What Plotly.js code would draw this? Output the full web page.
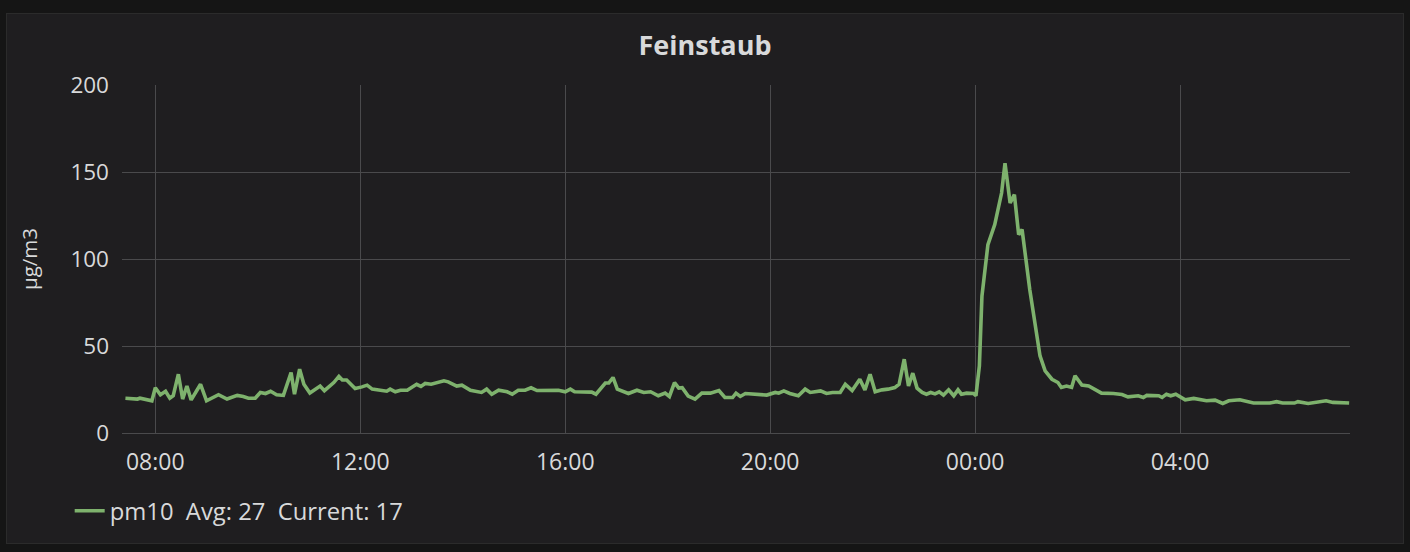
<!DOCTYPE html>
<html>
<head>
<meta charset="utf-8">
<script src="https://cdn.plot.ly/plotly-3.0.1.min.js"></script>
<style>
  html, body { margin: 0; padding: 0; background: #151515; width: 1410px; height: 552px; overflow: hidden; }
  #panel { position: absolute; left: 6px; top: 13px; width: 1396px; height: 529px; border: 1px solid #2b2b2b; background: #1f1e20; }
  #chart { position: absolute; left: 0; top: 0; width: 1396px; height: 529px; }
</style>
</head>
<body>
<div id="panel"><div id="chart"></div></div>
<script>
// ---- data ----
const chartTitle = "Feinstaub";
const yAxisLabel = "µg/m3";
const seriesName = "pm10";
const avgValue = 27;
const currentValue = 17;

const times = [
  "2018-03-10 07:25","2018-03-10 07:39","2018-03-10 07:42","2018-03-10 07:56","2018-03-10 08:00",
  "2018-03-10 08:06","2018-03-10 08:12","2018-03-10 08:17","2018-03-10 08:21","2018-03-10 08:27",
  "2018-03-10 08:32","2018-03-10 08:37","2018-03-10 08:42","2018-03-10 08:53","2018-03-10 09:00",
  "2018-03-10 09:06","2018-03-10 09:14","2018-03-10 09:24","2018-03-10 09:36","2018-03-10 09:43",
  "2018-03-10 09:49","2018-03-10 09:57","2018-03-10 10:03","2018-03-10 10:09","2018-03-10 10:15",
  "2018-03-10 10:22","2018-03-10 10:30","2018-03-10 10:39","2018-03-10 10:43","2018-03-10 10:49",
  "2018-03-10 10:54","2018-03-10 11:01","2018-03-10 11:13","2018-03-10 11:18","2018-03-10 11:29",
  "2018-03-10 11:35","2018-03-10 11:39","2018-03-10 11:44","2018-03-10 11:54","2018-03-10 12:02",
  "2018-03-10 12:08","2018-03-10 12:14","2018-03-10 12:25","2018-03-10 12:31","2018-03-10 12:35",
  "2018-03-10 12:41","2018-03-10 12:47","2018-03-10 12:55","2018-03-10 13:06","2018-03-10 13:11",
  "2018-03-10 13:16","2018-03-10 13:23","2018-03-10 13:38","2018-03-10 13:43","2018-03-10 13:53",
  "2018-03-10 13:59","2018-03-10 14:09","2018-03-10 14:22","2018-03-10 14:28","2018-03-10 14:34",
  "2018-03-10 14:42","2018-03-10 14:52","2018-03-10 14:58","2018-03-10 15:05","2018-03-10 15:13",
  "2018-03-10 15:20","2018-03-10 15:27","2018-03-10 15:37","2018-03-10 15:52","2018-03-10 16:00",
  "2018-03-10 16:06","2018-03-10 16:11","2018-03-10 16:20","2018-03-10 16:31","2018-03-10 16:36",
  "2018-03-10 16:47","2018-03-10 16:51","2018-03-10 16:56","2018-03-10 17:01","2018-03-10 17:08",
  "2018-03-10 17:14","2018-03-10 17:24","2018-03-10 17:32","2018-03-10 17:40","2018-03-10 17:49",
  "2018-03-10 17:57","2018-03-10 18:02","2018-03-10 18:08","2018-03-10 18:13","2018-03-10 18:17",
  "2018-03-10 18:24","2018-03-10 18:32","2018-03-10 18:40","2018-03-10 18:50","2018-03-10 19:00",
  "2018-03-10 19:07","2018-03-10 19:16","2018-03-10 19:20","2018-03-10 19:25","2018-03-10 19:31",
  "2018-03-10 19:44","2018-03-10 19:56","2018-03-10 20:06","2018-03-10 20:10","2018-03-10 20:16",
  "2018-03-10 20:23","2018-03-10 20:33","2018-03-10 20:41","2018-03-10 20:47","2018-03-10 20:59",
  "2018-03-10 21:06","2018-03-10 21:13","2018-03-10 21:22","2018-03-10 21:28","2018-03-10 21:36",
  "2018-03-10 21:45","2018-03-10 21:51","2018-03-10 21:57","2018-03-10 22:03","2018-03-10 22:11",
  "2018-03-10 22:18","2018-03-10 22:26","2018-03-10 22:31","2018-03-10 22:37","2018-03-10 22:42",
  "2018-03-10 22:47","2018-03-10 22:52","2018-03-10 22:58","2018-03-10 23:03","2018-03-10 23:08",
  "2018-03-10 23:13","2018-03-10 23:18","2018-03-10 23:23","2018-03-10 23:29","2018-03-10 23:35",
  "2018-03-10 23:40","2018-03-10 23:44","2018-03-10 23:50","2018-03-10 23:58","2018-03-11 00:01",
  "2018-03-11 00:05","2018-03-11 00:08","2018-03-11 00:15","2018-03-11 00:23","2018-03-11 00:31",
  "2018-03-11 00:35","2018-03-11 00:41","2018-03-11 00:46","2018-03-11 00:51","2018-03-11 00:55",
  "2018-03-11 01:04","2018-03-11 01:16","2018-03-11 01:22","2018-03-11 01:30","2018-03-11 01:37",
  "2018-03-11 01:41","2018-03-11 01:47","2018-03-11 01:53","2018-03-11 01:57","2018-03-11 02:05",
  "2018-03-11 02:13","2018-03-11 02:22","2018-03-11 02:28","2018-03-11 02:42","2018-03-11 02:52",
  "2018-03-11 02:59","2018-03-11 03:11","2018-03-11 03:17","2018-03-11 03:21","2018-03-11 03:35",
  "2018-03-11 03:39","2018-03-11 03:44","2018-03-11 03:49","2018-03-11 03:55","2018-03-11 04:06",
  "2018-03-11 04:16","2018-03-11 04:31","2018-03-11 04:41","2018-03-11 04:50","2018-03-11 04:57",
  "2018-03-11 05:10","2018-03-11 05:26","2018-03-11 05:45","2018-03-11 05:53","2018-03-11 06:00",
  "2018-03-11 06:14","2018-03-11 06:18","2018-03-11 06:30","2018-03-11 06:39","2018-03-11 06:51",
  "2018-03-11 06:59","2018-03-11 07:18"
];

const pm10 = [
  20, 19.5, 20, 18.5, 26,
  22, 24, 20, 21.5, 33.8,
  19.5, 27, 19, 28, 18.5,
  20, 22, 19.5, 21.6, 21,
  20, 20, 23.3, 22.7, 24,
  22, 21.6, 34.8, 22.3, 36.7,
  28, 23, 27, 24.3, 29,
  32.5, 30.5, 30.5, 25.6, 26.5,
  27.5, 25.2, 24.6, 24, 25.2,
  23.7, 24.6, 24.6, 28, 26.8,
  28.5, 28, 30, 29.4, 27,
  27.5, 24.5, 23.3, 25.2, 22.3,
  24.6, 23.7, 22.3, 24.6, 24.6,
  26, 24.4, 24.4, 24.6, 23.7,
  25.2, 23.7, 23.7, 23.5, 22.3,
  28.7, 28.7, 31.9, 25.2, 23.7,
  22.7, 24.6, 23.3, 23.7, 21.4,
  22.9, 21, 29, 25.8, 26,
  21.2, 19.5, 22.9, 22.9, 24.4,
  20.4, 20.4, 22.9, 21, 22.7,
  22.3, 21.8, 23.3, 22.9, 24.2,
  22.7, 21.4, 25.2, 23.3, 24.2,
  22.7, 23.3, 23.3, 28, 24.4,
  30.9, 24.8, 33.8, 23.7, 24.8,
  25.2, 26.1, 28, 42.4, 27,
  34.4, 25.8, 23.3, 22.3, 23.3,
  22.5, 23.7, 21.8, 24.8, 21.4,
  24.8, 22.3, 22.9, 22.7, 21.4,
  38.6, 78.7, 108.3, 119.8, 137.9,
  155.1, 132.2, 137, 114, 116.9,
  82.5, 44.3, 35.7, 30.9, 29,
  26.2, 27, 26.2, 32.9, 27.5,
  27, 24.8, 22.9, 22.7, 22.1,
  20.8, 21.4, 20.4, 21.6, 21.4,
  20.4, 22.3, 21.4, 22.3, 19.1,
  19.9, 18.5, 18.9, 17, 18.5,
  19.1, 17.2, 17.2, 18, 17.2,
  17.2, 18, 17, 17.6, 18.5,
  17.6, 17.2
];

const xRange = ["2018-03-10 07:21", "2018-03-11 07:19"];
const yTicks = [0, 50, 100, 150, 200];

// ---- styles ----
const textColor = "#d8d9da";
const gridColor = "#4a4a4c";
const lineColor = "#7eb26d";
const fontFamily = "'Open Sans', 'Liberation Sans', sans-serif";

const gap = "\u00a0\u00a0";
const legendText = seriesName + gap + "Avg: " + avgValue + gap + "Current: " + currentValue;

const trace = {
  x: times,
  y: pm10,
  type: "scatter",
  mode: "lines",
  name: legendText,
  line: { color: lineColor, width: 3.6, shape: "linear" },
  hoverinfo: "skip",
  showlegend: true
};

const layout = {
  width: 1396,
  height: 529,
  paper_bgcolor: "rgba(0,0,0,0)",
  plot_bgcolor: "rgba(0,0,0,0)",
  margin: { l: 115, r: 53, t: 71, b: 109, pad: 0 },
  font: { family: fontFamily, color: textColor, size: 23 },
  title: {
    text: "<b>" + chartTitle + "</b>",
    x: 0.5, xref: "container", xanchor: "center",
    y: 1 - 32 / 529, yref: "container", yanchor: "middle",
    font: { family: fontFamily, size: 27, color: textColor }
  },
  xaxis: {
    type: "date",
    range: xRange,
    tickformat: "%H:%M",
    tick0: "2018-03-10 00:00",
    dtick: 4 * 3600 * 1000,
    showgrid: true,
    gridcolor: gridColor,
    gridwidth: 1,
    zeroline: false,
    showline: false,
    ticks: "",
    ticklabelstandoff: 13,
    tickfont: { family: fontFamily, size: 23, color: textColor },
    fixedrange: true
  },
  yaxis: {
    range: [0, 200],
    tickvals: yTicks,
    ticktext: yTicks.map(String),
    showgrid: true,
    gridcolor: gridColor,
    gridwidth: 1,
    zeroline: true,
    zerolinecolor: gridColor,
    zerolinewidth: 1,
    showline: false,
    ticks: "",
    ticklabelstandoff: 12,
    tickfont: { family: fontFamily, size: 22.5, color: textColor },
    title: { text: yAxisLabel, standoff: 27, font: { family: fontFamily, size: 20.5, color: textColor } },
    automargin: false,
    fixedrange: true
  },
  showlegend: true,
  legend: {
    orientation: "h",
    x: -0.0426, xanchor: "left",
    y: -0.22, yanchor: "middle",
    bgcolor: "rgba(0,0,0,0)",
    font: { family: fontFamily, size: 23.8, color: textColor },
    itemwidth: 30
  }
};

Plotly.newPlot("chart", [trace], layout, { displayModeBar: false, staticPlot: true });
</script>
</body>
</html>
